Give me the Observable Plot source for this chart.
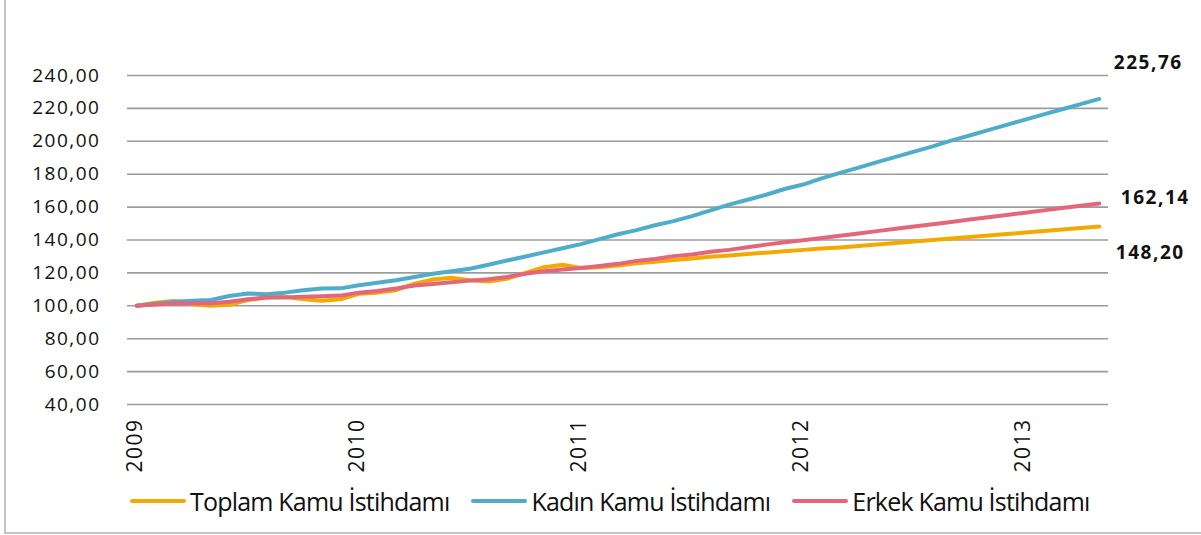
<!DOCTYPE html>
<html>
<head>
<meta charset="utf-8">
<script src="https://cdn.jsdelivr.net/npm/d3@7"></script>
<script src="https://cdn.jsdelivr.net/npm/@observablehq/plot@0.6"></script>
<style>
  html, body { margin: 0; padding: 0; background: #fff; }
  #wrap { position: relative; width: 1201px; height: 535px; overflow: hidden; background: #fff; }
  #frame { position: absolute; left: 4px; top: -10px; width: 1230px; height: 544px; border: 2px solid #c4c4c4; box-sizing: border-box; }
  #chart { position: absolute; left: 0; top: 0; }
  #legend { position: absolute; left: 130px; top: 484px; display: flex; align-items: center;
            font-family: "Open Sans", sans-serif; font-size: 25px; letter-spacing: -0.8px; color: #111; }
  .item { display: flex; align-items: center; margin-right: 22px; }
  .sw { width: 56px; height: 4px; border-radius: 2px; margin-right: 4px; }
</style>
</head>
<body>
<div id="wrap">
  <div id="frame"></div>
  <div id="chart"></div>
  <div id="legend"></div>
</div>
<script>
// Tick labels (years) placed every 12 monthly categories, starting Jan 2009
const years = [2009, 2010, 2011, 2012, 2013];
const yTicks = [40, 60, 80, 100, 120, 140, 160, 180, 200, 220, 240];

const seriesNames = ["Toplam Kamu İstihdamı", "Kadın Kamu İstihdamı", "Erkek Kamu İstihdamı"];
const seriesColors = ["#F2AA00", "#4FADCA", "#E4667A"];

// Monthly index values, Jan 2009 .. May 2013 (2009 = 100)
const toplam = [100, 101.8, 103, 101, 100, 100.6, 103.5, 105, 105.5, 104, 103, 104,
  107.3, 108, 109.5, 113.4, 116, 117, 115.5, 114.8, 116.4, 120, 123.5, 125,
  123, 123.5, 124.5, 125.8, 126.8, 127.8, 128.8, 129.8, 130.6, 131.5, 132.3, 133.2,
  134, 134.8, 135.5, 136.4, 137.3, 138.2, 139.1, 140, 140.9, 141.8, 142.7, 143.6,
  144.5, 145.5, 146.4, 147.3, 148.20];
const kadin = [100, 101.3, 102.5, 103, 103.5, 106, 107.5, 107, 108, 109.5, 110.5, 110.6,
  112.5, 114, 115.5, 117.5, 119.5, 121, 122.5, 125, 127.5, 130, 132.5, 135,
  137.5, 140.5, 143.5, 146, 149, 151.5, 154.5, 158, 161.5, 164.5, 167.5, 171,
  173.7, 177.5, 180.8, 184, 187.3, 190.5, 193.7, 196.9, 200.4, 203.5, 206.8, 210,
  213.2, 216.4, 219.5, 222.6, 225.76];
const erkek = [100, 100.8, 101.5, 101.5, 101.5, 102.5, 104, 105, 105, 105.5, 105.8, 106.2,
  108, 109, 110.5, 112.3, 113.3, 114.3, 115.3, 116.2, 117.5, 119.5, 121, 122,
  123, 124.2, 125.5, 127.3, 128.5, 130.2, 131.2, 132.8, 134, 135.6, 137.2, 138.6,
  139.8, 141.2, 142.6, 144, 145.4, 146.8, 148.2, 149.6, 151, 152.4, 153.8, 155.2,
  156.6, 158, 159.4, 160.8, 162.14];

const seriesValues = [toplam, kadin, erkek];
const rows = [];
seriesValues.forEach((vals, s) => vals.forEach((v, i) => rows.push({series: seriesNames[s], i, v})));

const lastIndex = toplam.length - 1;
const endLabels = seriesValues.map((vals, s) => ({series: seriesNames[s], i: lastIndex, v: vals[lastIndex]}));
const labelOffsets = {
  "Kadın Kamu İstihdamı": [49, -36],
  "Erkek Kamu İstihdamı": [56, -6],
  "Toplam Kamu İstihdamı": [51, 26]
};
const yearTicks = years.map((y, k) => ({i: k * 12, label: String(y)}));

const fmt = d => d.toFixed(2).replace(".", ",");

const chart = Plot.plot({
  width: 1201,
  height: 480,
  marginLeft: 127,
  marginRight: 93,
  marginTop: 75,
  marginBottom: 76,
  style: {fontFamily: "'Open Sans', sans-serif", background: "transparent", color: "#111", overflow: "visible"},
  x: {type: "linear", domain: [-0.5, lastIndex + 0.5], axis: null},
  y: {domain: [40, 240]},
  color: {domain: seriesNames, range: seriesColors},
  marks: [
    Plot.ruleY(yTicks, {stroke: "#9c9c9c", strokeWidth: 1.6}),
    Plot.axisY({ticks: yTicks, tickSize: 0, tickPadding: 27, tickFormat: fmt, fontSize: 19, label: null}),
    Plot.text(yearTicks, {x: "i", frameAnchor: "bottom", text: "label", rotate: -90, textAnchor: "end",
                          dx: 5, dy: 14, fontSize: 21, fill: "#111"}),
    Plot.lineY(rows, {x: "i", y: "v", stroke: "series", strokeWidth: 4, strokeLinecap: "round", strokeLinejoin: "round"}),
    ...endLabels.map(d => Plot.text([d], {
      x: "i", y: "v", text: r => fmt(r.v),
      dx: labelOffsets[d.series][0], dy: labelOffsets[d.series][1],
      fontSize: 19, fontWeight: "bold", fill: "#111"
    }))
  ]
});
document.getElementById("chart").appendChild(chart);

chart.querySelectorAll("g[aria-label='y-axis tick label'] text").forEach(t => t.setAttribute("letter-spacing", "1.5"));
chart.querySelectorAll("g[aria-label='text'] text").forEach(t => t.setAttribute("letter-spacing", "1.5"));

// legend
const legend = document.getElementById("legend");
seriesNames.forEach((name, s) => {
  const item = document.createElement("div");
  item.className = "item";
  const sw = document.createElement("span");
  sw.className = "sw";
  sw.style.background = seriesColors[s];
  const lab = document.createElement("span");
  lab.textContent = name;
  item.appendChild(sw);
  item.appendChild(lab);
  legend.appendChild(item);
});
</script>
</body>
</html>
